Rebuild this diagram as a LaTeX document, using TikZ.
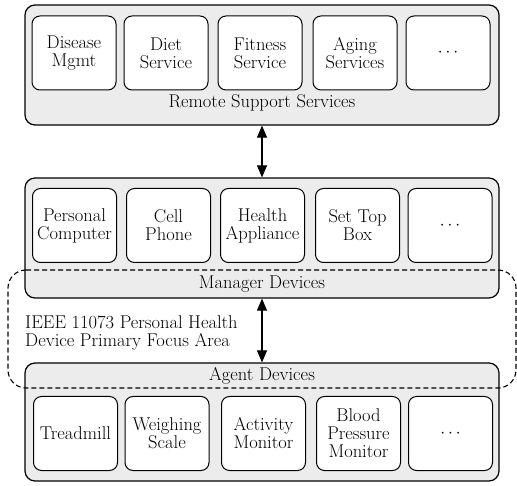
\documentclass[tikz,border=0pt]{standalone}
\usepackage{tikz}
\usetikzlibrary{arrows.meta}

\begin{document}
\begin{tikzpicture}[x=1pt,y=-1pt,font=\fontsize{18.5}{18}\selectfont,
outer/.style={draw,rounded corners=10pt,fill=gray!15,line width=1.2pt,minimum width=474pt,minimum height=120pt},
inbox/.style={draw,rounded corners=8pt,fill=white,line width=1pt,minimum width=84pt,minimum height=74pt,align=center,inner sep=0pt},
dblarrow/.style={{Triangle[length=12pt,width=10pt]}-{Triangle[length=12pt,width=10pt]},line width=1.1pt},
focus/.style={dashed,dash pattern=on 5pt off 3pt,line width=1.1pt,rounded corners=18pt}]
%\draw[help lines] (0,0) grid (517,486);
\useasboundingbox (0,0) rectangle (517,486);
% remote services
\node (rss) [outer] at (262,65) {};
\node (dis) [inbox] at (74,53) {Disease\\Mgmt};
\node (diet) [inbox] at (166,53) {Diet\\Service};
\node (fit) [inbox] at (260,53) {Fitness\\Service};
\node (age) [inbox] at (355,53) {Aging\\Services};
\node (rmore) [inbox] at (448,53) {$\cdots$};
\node (rsslbl) [] at (262,103) {Remote Support Services};
% manager devices
\node (mgr) [outer] at (262,238) {};
\node (pc) [inbox] at (74.5,225.5) {Personal\\Computer};
\node (cell) [inbox] at (168.5,225.5) {Cell\\Phone};
\node (app) [inbox] at (262.5,225.5) {Health\\Appliance};
\node (stb) [inbox] at (357.5,225.5) {Set Top\\Box};
\node (mmore) [inbox] at (450,225.5) {$\cdots$};
\node (mgrlbl) [] at (262,284) {Manager Devices};
% agent devices
\node (agt) [outer,minimum height=118pt] at (262,422) {};
\node (tread) [inbox] at (75.5,433.5) {Treadmill};
\node (scale) [inbox] at (167,433.5) {Weighing\\Scale};
\node (act) [inbox] at (263.5,433.5) {Activity\\Monitor};
\node (bp) [inbox] at (358.5,433.5) {Blood\\Pressure\\Monitor};
\node (amore) [inbox] at (450.5,433.5) {$\cdots$};
\node (agtlbl) [] at (262,376) {Agent Devices};
% focus area
\draw[focus] (8,270) -- (516,270) -- (516,388) -- (8,388) -- cycle;
\node (foc) [anchor=west,align=left,inner sep=0pt] at (25,333) {IEEE 11073 Personal Health\\Device Primary Focus Area};
\path
(rss) edge[dblarrow] (mgr)
(mgr) edge[dblarrow] (agt);
\end{tikzpicture}
\end{document}
